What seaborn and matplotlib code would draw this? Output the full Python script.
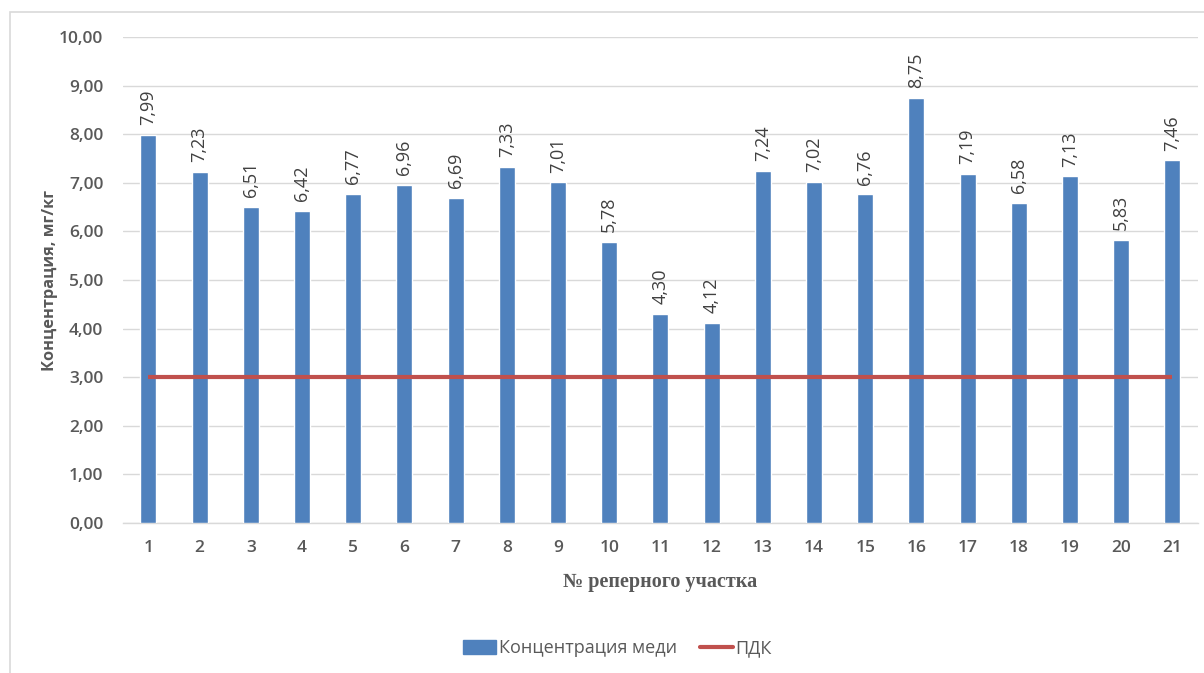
import matplotlib
matplotlib.use("Agg")
import matplotlib.pyplot as plt
import matplotlib.patches as mpatches
from matplotlib.lines import Line2D
import seaborn as sns
import pandas as pd

sites = [str(i) for i in range(1, 22)]
copper = [7.99, 7.23, 6.51, 6.42, 6.77, 6.96, 6.69, 7.33, 7.01, 5.78, 4.30,
          4.12, 7.24, 7.02, 6.76, 8.75, 7.19, 6.58, 7.13, 5.83, 7.46]
mpc_value = 3.0
y_ticks = [0, 1, 2, 3, 4, 5, 6, 7, 8, 9, 10]

bar_color = "#4F81BD"
line_color = "#C0504D"
text_color = "#595959"

sns.set_theme(style="white")
plt.rcParams["font.family"] = ["Open Sans", "DejaVu Sans"]

df = pd.DataFrame({"site": sites, "value": copper})

fig = plt.figure(figsize=(12.04, 6.73), dpi=100)
ax = fig.add_axes([0.102, 0.223, 0.893, 0.722])

sns.barplot(data=df, x="site", y="value", color=bar_color, width=0.31,
            saturation=1, ax=ax, zorder=3)

ax.plot(range(len(sites)), [mpc_value] * len(sites), color=line_color,
        lw=3, zorder=4, solid_capstyle="butt")

for i, v in enumerate(copper):
    ax.annotate(f"{v:.2f}".replace(".", ","), (i, v), xytext=(0, 7),
                textcoords="offset points", rotation=90, ha="center",
                va="bottom", fontsize=13, fontweight="medium",
                color="#404040")

ax.set_ylim(0, 10)
ax.set_xlim(-0.5, len(sites) - 0.5)
ax.set_yticks(y_ticks)
ax.set_yticklabels([f"{t:.2f}".replace(".", ",") for t in y_ticks])
ax.yaxis.grid(True, color="#D9D9D9", lw=1, zorder=0)
ax.set_axisbelow(True)
for s in ["top", "right", "left"]:
    ax.spines[s].set_visible(False)
ax.spines["bottom"].set_color("#D9D9D9")
ax.spines["bottom"].set_linewidth(1)
ax.tick_params(axis="both", length=0, labelsize=12.5, labelcolor=text_color)
ax.tick_params(axis="y", pad=14)
ax.tick_params(axis="x", pad=12)
for lab in ax.get_xticklabels() + ax.get_yticklabels():
    lab.set_fontweight("semibold")

ax.set_ylabel("Концентрация, мг/кг", fontsize=11.8, fontweight="bold",
              color=text_color, labelpad=0)
ax.yaxis.set_label_coords(-0.06, 0.5)
ax.set_xlabel("№ реперного участка", fontsize=14.5, fontweight="bold",
              color=text_color, family=["Liberation Serif", "DejaVu Serif"],
              labelpad=12)

handles = [mpatches.Patch(color=bar_color, label="Концентрация меди"),
           Line2D([0], [0], color=line_color, lw=3, label="ПДК")]
leg = fig.legend(handles=handles, loc="center", bbox_to_anchor=(0.513, 0.037),
                 ncol=2, frameon=False, fontsize=13, handlelength=1.8,
                 handleheight=0.8, columnspacing=1.3, handletextpad=0.15)
for t in leg.get_texts():
    t.set_color(text_color)

# chart frame
fig.patches.append(mpatches.Rectangle((10 / 1204, -0.01), 1.0, 1 - 12 / 673 + 0.01,
                                      transform=fig.transFigure, fill=False,
                                      edgecolor="#D9D9D9", lw=1.2))

fig.savefig("out.png", dpi=100)
